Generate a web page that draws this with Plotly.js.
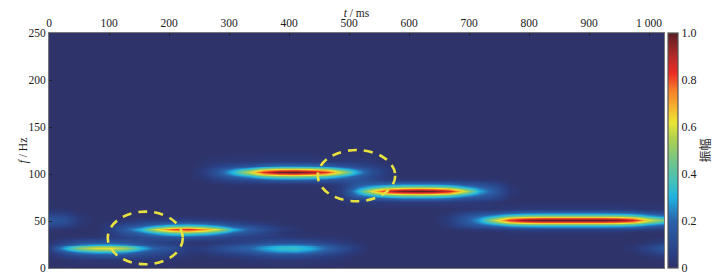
<!DOCTYPE html>
<html>
<head>
<meta charset="utf-8">
<script src="https://cdn.plot.ly/plotly-3.0.1.min.js"></script>
<style>html,body{margin:0;padding:0;background:#fff}#c{width:722px;height:276px}</style>
</head>
<body>
<div id="c"></div>
<script>
const timeMs = [0,26,51,77,102,128,154,179,205,231,256,282,307,333,359,384,410,435,461,487,512,538,564,589,615,640,666,692,717,743,769,794,820,845,871,897,922,948,974,999,1025];
const freqHz = [0,9,14,17,19,21,23,25,28,33,37,39,41,43,45,47,49,51,53,55,58,63,70,75,78,80,82,84,86,89,94,98,100,102,104,106,109,114,125,250];
// amplitude in percent of full scale, one row per frequency, one column per time
const amplitude = [
[0,0,0,0,0,0,0,0,0,0, 0,0,0,0,0,0,0,0,0,0, 0,0,0,0,0,0,0,0,0,0, 0,0,0,0,0,0,0,0,0,0, 0],
[0,1,2,2,2,2,2,2,1,0, 0,0,0,2,2,3,3,2,2,1, 0,0,0,0,0,0,0,0,0,0, 0,0,0,0,0,0,0,0,0,0, 1],
[1,7,12,14,15,13,10,7,5,2, 1,3,5,7,10,12,12,10,7,4, 1,0,0,0,0,0,0,0,0,0, 0,0,0,0,0,0,0,0,0,2, 5],
[3,15,25,30,31,26,17,11,8,3, 3,7,10,14,20,24,25,21,14,8, 3,0,0,0,0,0,0,0,0,0, 0,0,0,0,0,0,0,0,1,5, 11],
[4,24,40,48,50,42,26,15,10,4, 4,9,14,18,25,31,32,27,18,11, 4,0,0,0,0,0,0,0,0,0, 0,0,0,0,0,0,0,0,2,7, 14],
[5,30,50,60,62,52,32,18,12,5, 5,10,15,20,28,34,35,30,20,12, 4,0,0,0,0,0,0,0,0,0, 0,0,0,0,0,0,0,0,2,8, 16],
[4,24,40,48,50,42,26,15,10,4, 4,9,14,18,25,31,32,27,18,11, 4,0,0,0,0,0,0,0,0,0, 0,0,0,0,0,0,0,0,2,7, 14],
[3,15,25,30,31,26,17,11,8,3, 3,7,10,14,20,24,25,21,14,8, 3,0,0,0,0,0,0,0,0,0, 0,0,0,0,0,0,0,0,1,5, 11],
[1,7,12,14,15,13,10,7,5,2, 1,3,5,7,10,12,12,10,7,4, 1,0,0,0,0,0,0,0,0,0, 0,0,0,0,0,0,0,0,0,2, 5],
[0,1,2,2,4,7,10,12,15,15, 13,10,7,6,5,4,3,2,2,1, 0,0,0,0,0,0,0,0,0,0, 0,0,0,0,0,0,0,0,0,0, 1],
[0,0,0,0,4,13,19,30,40,43, 38,29,17,12,8,3,1,0,0,0, 0,0,0,0,0,0,0,0,0,0, 1,1,1,1,1,1,1,1,0,0, 0],
[1,0,0,0,5,16,27,48,64,69, 60,46,26,16,10,4,2,0,0,0, 0,0,0,0,0,0,0,1,2,2, 3,4,4,4,4,4,4,4,3,2, 2],
[2,1,0,0,5,18,32,60,80,86, 75,58,32,18,12,5,2,0,0,0, 0,0,0,0,0,0,1,2,3,5, 7,8,8,8,8,8,8,8,7,5, 4],
[4,3,1,0,5,16,27,48,64,69, 60,46,26,16,10,4,2,0,0,0, 0,0,0,0,0,0,2,5,8,10, 14,16,17,17,17,17,17,16,15,11, 8],
[8,6,1,0,4,13,19,30,40,43, 38,29,17,12,8,3,1,0,0,0, 0,0,0,0,0,0,3,9,14,18, 26,29,30,30,30,30,30,29,26,19, 14],
[11,9,2,0,3,8,12,18,24,26, 23,17,11,7,4,1,0,0,0,0, 0,0,0,0,0,0,4,12,20,30, 43,48,50,50,50,50,50,49,44,31, 23],
[14,11,3,0,2,5,8,10,14,15, 13,10,7,4,3,1,0,0,0,0, 0,0,0,0,0,0,5,14,25,46, 68,77,80,80,80,80,80,78,70,50, 36],
[15,12,3,0,1,2,4,5,6,7, 6,5,3,2,1,0,0,0,0,0, 0,0,0,0,0,0,5,15,28,58, 85,96,100,100,100,100,100,97,88,62, 45],
[14,11,3,0,0,1,2,2,3,3, 3,2,1,0,0,0,0,0,0,0, 0,0,0,0,0,0,5,14,25,46, 68,77,80,80,80,80,80,78,70,50, 36],
[11,9,2,0,0,0,0,0,1,1, 1,0,0,0,0,0,0,0,0,0, 0,0,0,0,0,0,4,12,20,30, 43,48,50,50,50,50,50,49,44,31, 23],
[6,5,1,0,0,0,0,0,0,0, 0,0,0,0,0,0,0,0,0,0, 0,0,0,0,0,0,2,7,11,14, 20,23,24,24,24,24,24,23,21,15, 11],
[1,1,0,0,0,0,0,0,0,0, 0,0,0,0,0,0,0,0,0,0, 0,0,0,0,0,0,0,1,2,2, 3,4,4,4,4,4,4,4,3,2, 2],
[0,0,0,0,0,0,0,0,0,0, 0,0,0,0,0,0,0,0,0,1, 2,3,3,4,4,4,4,3,3,2, 0,0,0,0,0,0,0,0,0,0, 0],
[0,0,0,0,0,0,0,0,0,0, 0,0,0,0,0,0,0,0,0,2, 11,16,20,24,24,24,21,15,12,8, 1,0,0,0,0,0,0,0,0,0, 0],
[0,0,0,0,0,0,0,0,0,0, 0,0,0,0,0,0,0,0,0,4, 20,32,44,49,50,49,44,30,20,12, 2,0,0,0,0,0,0,0,0,0, 0],
[0,0,0,0,0,0,0,0,0,0, 0,0,0,0,0,0,0,0,0,5, 24,50,70,78,80,78,70,48,26,14, 3,0,0,0,0,0,0,0,0,0, 0],
[0,0,0,0,0,0,0,0,0,0, 0,0,0,0,0,0,0,0,0,5, 28,62,87,98,100,98,88,60,30,15, 3,0,0,0,0,0,0,0,0,0, 0],
[0,0,0,0,0,0,0,0,0,0, 0,0,0,0,0,0,0,0,0,5, 24,50,70,78,80,78,70,48,26,14, 3,0,0,0,0,0,0,0,0,0, 0],
[0,0,0,0,0,0,0,0,0,0, 0,0,0,0,0,0,0,0,0,4, 20,32,44,49,50,49,44,30,20,12, 2,0,0,0,0,0,0,0,0,0, 0],
[0,0,0,0,0,0,0,0,0,0, 0,1,2,2,2,2,2,2,3,6, 15,19,21,24,24,24,21,15,12,8, 1,0,0,0,0,0,0,0,0,0, 0],
[0,0,0,0,0,0,0,0,0,0, 1,5,8,10,14,17,17,16,14,12, 14,10,5,4,4,4,4,3,3,2, 0,0,0,0,0,0,0,0,0,0, 0],
[0,0,0,0,0,0,0,0,0,0, 3,11,20,29,43,49,50,48,42,29, 18,9,3,0,0,0,0,0,0,0, 0,0,0,0,0,0,0,0,0,0, 0],
[0,0,0,0,0,0,0,0,0,0, 4,14,28,46,68,78,80,76,67,46, 26,11,4,0,0,0,0,0,0,0, 0,0,0,0,0,0,0,0,0,0, 0],
[0,0,0,0,0,0,0,0,0,0, 4,15,32,58,85,98,100,95,84,58, 30,12,4,0,0,0,0,0,0,0, 0,0,0,0,0,0,0,0,0,0, 0],
[0,0,0,0,0,0,0,0,0,0, 4,14,28,46,68,78,80,76,67,46, 26,11,4,0,0,0,0,0,0,0, 0,0,0,0,0,0,0,0,0,0, 0],
[0,0,0,0,0,0,0,0,0,0, 3,11,20,29,43,49,50,48,42,29, 18,9,3,0,0,0,0,0,0,0, 0,0,0,0,0,0,0,0,0,0, 0],
[0,0,0,0,0,0,0,0,0,0, 2,7,11,14,20,24,24,23,20,14, 10,6,2,0,0,0,0,0,0,0, 0,0,0,0,0,0,0,0,0,0, 0],
[0,0,0,0,0,0,0,0,0,0, 1,2,3,3,4,4,4,4,3,3, 3,2,0,0,0,0,0,0,0,0, 0,0,0,0,0,0,0,0,0,0, 0],
[0,0,0,0,0,0,0,0,0,0, 0,0,0,0,0,0,0,0,0,0, 0,0,0,0,0,0,0,0,0,0, 0,0,0,0,0,0,0,0,0,0, 0],
[0,0,0,0,0,0,0,0,0,0, 0,0,0,0,0,0,0,0,0,0, 0,0,0,0,0,0,0,0,0,0, 0,0,0,0,0,0,0,0,0,0, 0]
];
const xTickVals = [0,100,200,300,400,500,600,700,800,900,1000];
const xTickText = ['0','100','200','300','400','500','600','700','800','900','1 000'];
const yTickVals = [0,50,100,150,200,250];
const cbTickVals = [0,20,40,60,80,100];
const cbTickText = ['0','0.2','0.4','0.6','0.8','1.0'];
const colorStops = [[0,'#2e3369'],[0.05,'#2a3d80'],[0.2,'#2a62aa'],[0.3,'#1fb2e2'],[0.36,'#3fc0bf'],[0.45,'#70c48c'],[0.55,'#aed150'],[0.62,'#ece534'],[0.7,'#f8a62e'],[0.76,'#f47c28'],[0.83,'#ec2a25'],[0.9,'#b42a2a'],[1,'#5a1f24']];
const serif = '"Liberation Serif", serif';
const ink = '#1a1a1a';
const dash = {color:'#e9e13f', width:2.6, dash:'9px,7px'};

Plotly.newPlot('c', [{
  type:'heatmap', x:timeMs, y:freqHz, z:amplitude, zmin:0, zmax:100, zsmooth:'best',
  colorscale:colorStops, hoverinfo:'skip',
  colorbar:{x:1.0065, xanchor:'left', y:0.5, yanchor:'middle', len:1, lenmode:'fraction', thickness:10, thicknessmode:'pixels',
    xpad:0, ypad:0, outlinecolor:'#555', outlinewidth:1.2, ticks:'', tickvals:cbTickVals, ticktext:cbTickText,
    tickfont:{family:serif,size:12,color:ink},
    title:{text:'振幅', side:'right', font:{family:'"Noto Sans CJK SC"',size:12,color:'#333'}}}
}], {
  width:722, height:276, margin:{l:49,r:58,t:33,b:8}, paper_bgcolor:'#fff', plot_bgcolor:'#2e3369',
  font:{family:serif,size:11.5,color:ink}, showlegend:false,
  xaxis:{side:'top', range:[0,1025], tickvals:xTickVals, ticktext:xTickText, ticks:'inside', ticklen:3, tickcolor:'#222', tickangle:0,
    showline:true, linecolor:'#777', linewidth:1, mirror:true, showgrid:false, zeroline:false,
    tickfont:{family:serif,size:11.5,color:ink},
    title:{text:'<i>t</i> / ms', standoff:1, font:{family:serif,size:11.5,color:ink}}},
  yaxis:{range:[0,250], tickvals:yTickVals, ticks:'inside', ticklen:3, tickcolor:'#222',
    showline:true, linecolor:'#777', linewidth:1, mirror:true, showgrid:false, zeroline:false,
    tickfont:{family:serif,size:11.5,color:ink},
    title:{text:'<i>f</i> / Hz', standoff:3, font:{family:serif,size:11.5,color:ink}}},
  shapes:[
    {type:'circle', xref:'x', yref:'y', x0:98, x1:223, y0:4, y1:60, line:dash},
    {type:'circle', xref:'x', yref:'y', x0:448, x1:577, y0:71, y1:125.5, line:dash}
  ]
}, {displayModeBar:false, staticPlot:true}).then(function(){
  // nudge the titles to the reference offsets that standoff cannot reach
  var nudges = [['.g-xtitle',0,4],['.g-ytitle',5,0],['.cbtitle',10,0]];
  nudges.forEach(function(n){
    var el = document.querySelector(n[0]);
    if (el) el.setAttribute('transform','translate('+n[1]+','+n[2]+')');
  });
});
</script>
</body>
</html>
